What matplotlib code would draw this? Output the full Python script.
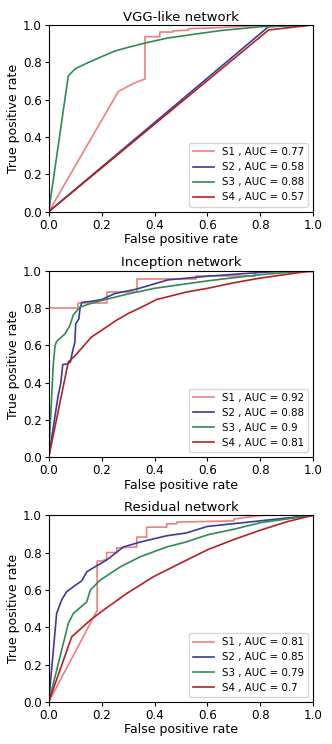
import matplotlib
matplotlib.use("Agg")
import matplotlib.pyplot as plt

labels = ["S1", "S2", "S3", "S4"]
colors = ["#f07f7f", "#3b3b98", "#2e8b57", "#b22222"]

titles = ["VGG-like network", "Inception network", "Residual network"]
aucs = [[0.77, 0.58, 0.88, 0.57],
        [0.92, 0.88, 0.9, 0.81],
        [0.81, 0.85, 0.79, 0.7]]

# VGG-like
vgg_s1_fpr = [0, 0.263, 0.30, 0.33, 0.364, 0.364, 0.42, 0.42, 0.47, 0.47, 0.528, 0.528, 0.635, 0.70, 0.85, 1.0]
vgg_s1_tpr = [0, 0.643, 0.672, 0.692, 0.711, 0.937, 0.937, 0.962, 0.962, 0.968, 0.972, 0.98, 0.985, 0.99, 1.0, 1.0]
vgg_s2_fpr = [0, 0.831, 1.0]
vgg_s2_tpr = [0, 0.991, 1.0]
vgg_s3_fpr = [0, 0.074, 0.10, 0.144, 0.20, 0.25, 0.30, 0.37, 0.45, 0.55, 0.65, 0.80, 1.0]
vgg_s3_tpr = [0, 0.727, 0.765, 0.795, 0.83, 0.86, 0.88, 0.905, 0.93, 0.95, 0.97, 0.99, 1.0]
vgg_s4_fpr = [0, 0.831, 1.0]
vgg_s4_tpr = [0, 0.973, 1.0]

# Inception
inc_s1_fpr = [0, 0, 0.11, 0.11, 0.222, 0.222, 0.333, 0.333, 0.557, 0.557, 0.78, 0.78, 1.0, 1.0]
inc_s1_tpr = [0, 0.80, 0.80, 0.826, 0.826, 0.884, 0.884, 0.954, 0.954, 0.97, 0.97, 0.99, 0.99, 1.0]
inc_s2_fpr = [0, 0.036, 0.046, 0.053, 0.069, 0.082, 0.089, 0.099, 0.102, 0.114, 0.118, 0.125, 0.16, 0.20, 0.25, 0.33, 0.45, 0.60, 0.70, 0.80, 0.90, 1.0]
inc_s2_tpr = [0, 0.333, 0.40, 0.497, 0.50, 0.51, 0.56, 0.617, 0.715, 0.742, 0.795, 0.83, 0.835, 0.845, 0.877, 0.90, 0.95, 0.97, 0.98, 0.99, 1.0, 1.0]
inc_s3_fpr = [0, 0.017, 0.024, 0.030, 0.062, 0.080, 0.093, 0.118, 0.15, 0.20, 0.30, 0.40, 0.50, 0.60, 0.70, 0.80, 0.90, 1.0]
inc_s3_tpr = [0, 0.493, 0.598, 0.621, 0.662, 0.706, 0.763, 0.804, 0.82, 0.84, 0.875, 0.905, 0.925, 0.945, 0.962, 0.978, 0.99, 1.0]
inc_s4_fpr = [0, 0.074, 0.10, 0.162, 0.20, 0.257, 0.30, 0.345, 0.408, 0.52, 0.60, 0.70, 0.80, 0.90, 1.0]
inc_s4_tpr = [0, 0.51, 0.545, 0.645, 0.68, 0.735, 0.77, 0.80, 0.845, 0.885, 0.905, 0.935, 0.96, 0.98, 1.0]

# Residual
res_s1_fpr = [0, 0.183, 0.183, 0.20, 0.219, 0.219, 0.257, 0.257, 0.333, 0.333, 0.37, 0.37, 0.446, 0.446, 0.484, 0.484, 0.70, 0.70, 0.81, 1.0]
res_s1_tpr = [0, 0.49, 0.755, 0.755, 0.765, 0.80, 0.80, 0.825, 0.83, 0.883, 0.883, 0.936, 0.936, 0.954, 0.954, 0.963, 0.97, 0.98, 1.0, 1.0]
res_s2_fpr = [0, 0.03, 0.05, 0.068, 0.093, 0.125, 0.144, 0.175, 0.219, 0.282, 0.345, 0.446, 0.52, 0.60, 0.70, 0.80, 0.90, 1.0]
res_s2_tpr = [0, 0.474, 0.55, 0.59, 0.617, 0.649, 0.697, 0.724, 0.76, 0.83, 0.856, 0.89, 0.905, 0.94, 0.955, 0.97, 0.985, 1.0]
res_s3_fpr = [0, 0.074, 0.093, 0.144, 0.157, 0.194, 0.27, 0.345, 0.446, 0.52, 0.60, 0.70, 0.80, 0.90, 1.0]
res_s3_tpr = [0, 0.42, 0.474, 0.536, 0.599, 0.652, 0.723, 0.777, 0.83, 0.857, 0.895, 0.925, 0.96, 0.98, 1.0]
res_s4_fpr = [0, 0.087, 0.157, 0.207, 0.295, 0.395, 0.496, 0.60, 0.70, 0.80, 0.90, 1.0]
res_s4_tpr = [0, 0.349, 0.438, 0.492, 0.581, 0.67, 0.742, 0.815, 0.87, 0.92, 0.965, 1.0]

panels = [
    [(vgg_s1_fpr, vgg_s1_tpr), (vgg_s2_fpr, vgg_s2_tpr), (vgg_s3_fpr, vgg_s3_tpr), (vgg_s4_fpr, vgg_s4_tpr)],
    [(inc_s1_fpr, inc_s1_tpr), (inc_s2_fpr, inc_s2_tpr), (inc_s3_fpr, inc_s3_tpr), (inc_s4_fpr, inc_s4_tpr)],
    [(res_s1_fpr, res_s1_tpr), (res_s2_fpr, res_s2_tpr), (res_s3_fpr, res_s3_tpr), (res_s4_fpr, res_s4_tpr)],
]

fig = plt.figure(figsize=(3.32, 7.44), dpi=100)
bottoms = [0.7155, 0.3853, 0.0565]
for p in range(3):
    ax = fig.add_axes([0.1467, bottoms[p], 0.797, 0.251])
    for i in range(4):
        fpr, tpr = panels[p][i]
        ax.plot(fpr, tpr, color=colors[i], lw=1.2,
                label=f"{labels[i]} , AUC = {aucs[p][i]}")
    ax.set_xlim(0, 1)
    ax.set_ylim(0, 1)
    ax.set_title(titles[p], fontsize=9.5, pad=3)
    ax.set_xlabel("False positive rate", fontsize=9, labelpad=1)
    ax.set_ylabel("True positive rate", fontsize=9, labelpad=2)
    ax.tick_params(labelsize=8.6, length=3, pad=2)
    ax.legend(loc="lower right", fontsize=7.4)

fig.savefig("out.png", dpi=100)
